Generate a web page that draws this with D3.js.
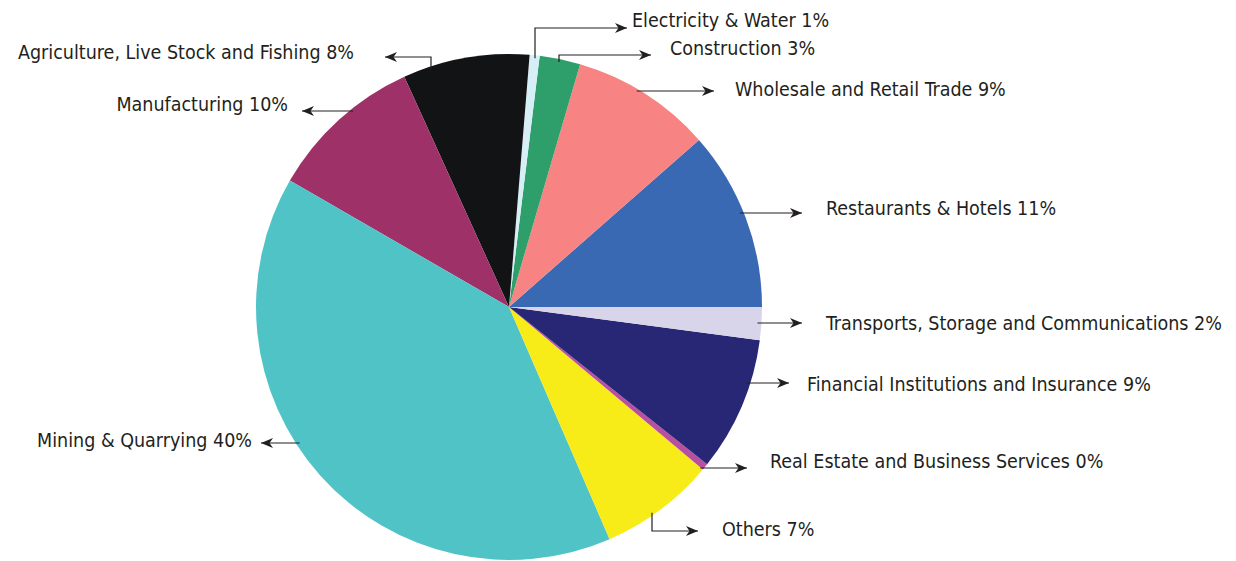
<!DOCTYPE html>
<html>
<head>
<meta charset="utf-8">
<script src="https://cdn.jsdelivr.net/npm/d3@7"></script>
<style>
  body { margin: 0; background: #fff; }
  text { font-family: "Liberation Sans Narrow", "DejaVu Sans Condensed", sans-serif; font-size: 19.5px; fill: #231f20; }
</style>
</head>
<body>
<div id="chart"></div>
<script>
// Sectors, counter-clockwise from 3 o'clock
var sectors = ["Restaurants & Hotels", "Wholesale and Retail Trade", "Construction",
  "Electricity & Water", "Agriculture, Live Stock and Fishing", "Manufacturing",
  "Mining & Quarrying", "Others", "Real Estate and Business Services",
  "Financial Institutions and Insurance", "Transports, Storage and Communications"];
var shares = [11.5, 9.0, 2.6, 0.64, 8.1, 9.9, 39.9, 7.4, 0.42, 8.6, 2.1];
var shareLabels = ["11%", "9%", "3%", "1%", "8%", "10%", "40%", "7%", "0%", "9%", "2%"];
var colors = ["#3a69b4", "#f78383", "#2e9f6a", "#d6eef5", "#121315", "#9e3167",
  "#4fc3c6", "#f8ec18", "#b94fa0", "#282776", "#d8d5ea"];

// leader layout: h = straight horizontal line at y, v = vertical from pie edge at x then horizontal at y
var leaders = [
  {kind: "h", y: 213, end: 802, lx: 826, side: 1},
  {kind: "h", y: 91, end: 714, lx: 735, side: 1},
  {kind: "v", x: 559, y: 55, end: 651, lx: 670, side: 1},
  {kind: "v", x: 535, y: 28, end: 627, lx: 632, side: 1},
  {kind: "v", x: 431, y: 57, end: 385, lx: 354, side: -1},
  {kind: "h", y: 111, end: 302, lx: 288, side: -1},
  {kind: "h", y: 443, end: 261, lx: 252, side: -1},
  {kind: "v", x: 652, y: 531, end: 698, lx: 722, side: 1},
  {kind: "h", y: 468, end: 747, lx: 770, side: 1},
  {kind: "h", y: 383, end: 789, lx: 807, side: 1},
  {kind: "h", y: 323, end: 802, lx: 826, side: 1}
];
var labelDy = [-5, -2, -7, -8, -5, -7, -3, -2, -7, 1, 0];

var width = 1236, height = 561;
var cx = 509, cy = 307, r = 253;

var svg = d3.select("#chart").append("svg")
  .attr("width", width)
  .attr("height", height);

svg.append("defs").append("marker")
  .attr("id", "arrow")
  .attr("viewBox", "0 0 12 10")
  .attr("refX", 12).attr("refY", 5)
  .attr("markerWidth", 13).attr("markerHeight", 10)
  .attr("markerUnits", "userSpaceOnUse")
  .attr("orient", "auto")
  .append("path")
  .attr("d", "M0,0 L12,5 L0,10 L3.5,5 Z")
  .attr("fill", "#231f20");

var pie = d3.pie()
  .sort(null)
  .startAngle(Math.PI / 2)
  .endAngle(Math.PI / 2 - 2 * Math.PI);

var arc = d3.arc().innerRadius(0).outerRadius(r);

var data = shares.map(function(v, i) { return {value: v, i: i}; });

var chart = svg.append("g")
  .attr("transform", "translate(" + cx + "," + cy + ")");

chart.selectAll("path")
  .data(pie.value(function(d) { return d.value; })(data))
  .enter()
  .append("path")
  .attr("d", arc)
  .attr("fill", function(d) { return colors[d.data.i]; });

// leaders start on the pie edge
function edgeX(y, side) {
  var dy = y - cy;
  return cx + side * Math.sqrt(Math.max(0, r * r - dy * dy));
}
function edgeY(x) {
  var dx = x - cx;
  return Math.sqrt(Math.max(0, r * r - dx * dx));
}

leaders.forEach(function(L, i) {
  var pts;
  if (L.kind === "h") {
    pts = [[edgeX(L.y, L.side) - L.side * 4, L.y], [L.end, L.y]];
  } else {
    var up = L.y < cy ? -1 : 1;
    var y0 = cy + up * edgeY(L.x) - up * 3;
    pts = [[L.x, y0], [L.x, L.y], [L.end, L.y]];
  }
  svg.append("path")
    .attr("d", d3.line()(pts))
    .attr("fill", "none")
    .attr("stroke", "#231f20")
    .attr("stroke-width", 1.2)
    .attr("marker-end", "url(#arrow)");

  svg.append("text")
    .attr("x", L.lx)
    .attr("y", L.y + labelDy[i])
    .attr("dy", "0.35em")
    .attr("text-anchor", L.side > 0 ? "start" : "end")
    .text(sectors[i] + " " + shareLabels[i]);
});
</script>
</body>
</html>
